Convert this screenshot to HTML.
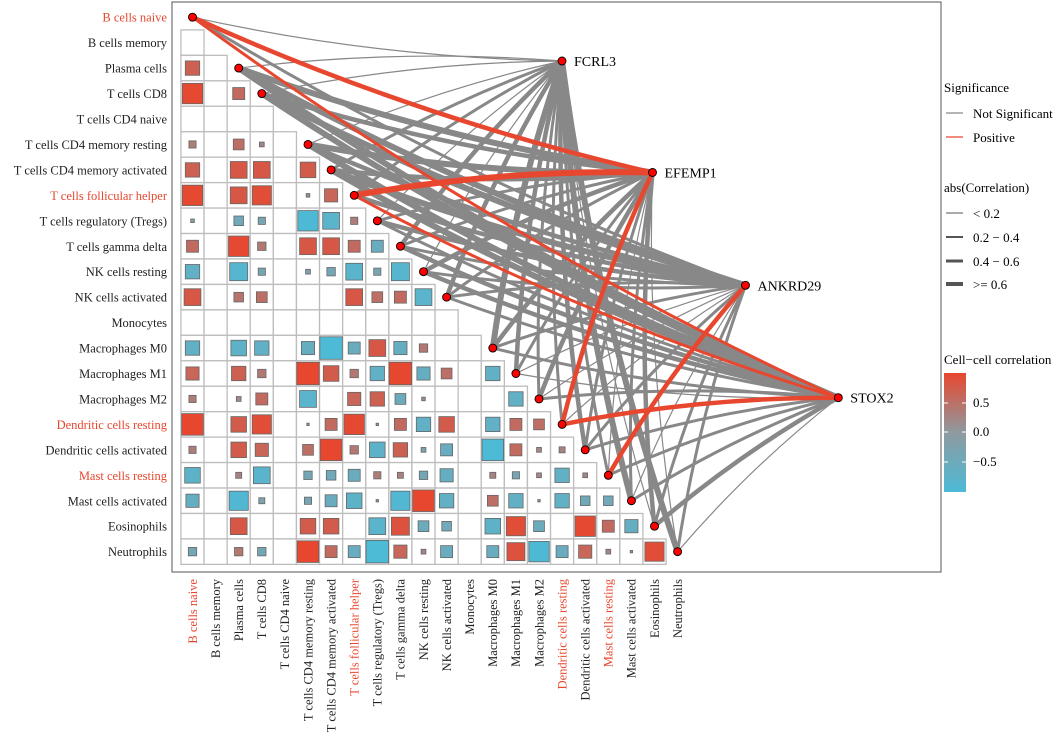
<!DOCTYPE html>
<html><head><meta charset="utf-8"><style>
body{margin:0;background:#fff}
svg{display:block;font-family:"Liberation Serif",serif}
</style></head><body>
<svg id="chart" width="1059" height="749" viewBox="0 0 1059 749" xmlns="http://www.w3.org/2000/svg">
<rect x="172" y="2" width="769" height="570" fill="none" stroke="#555" stroke-width="1"/>
<g id="grid"></g><g id="cells"></g><g id="links"></g><g id="nodes"></g><g id="labels"></g>
<g id="legend">
<text x="944" y="92" font-size="13">Significance</text>
<line x1="946" y1="113" x2="963" y2="113" stroke="#888" stroke-width="1.2"/>
<text x="973" y="118" font-size="13">Not Significant</text>
<line x1="946" y1="137" x2="963" y2="137" stroke="#E8472F" stroke-width="1.2"/>
<text x="973" y="142" font-size="13">Positive</text>
<text x="944" y="192" font-size="13">abs(Correlation)</text>
<line x1="946" y1="213" x2="963" y2="213" stroke="#555" stroke-width="1"/>
<text x="973" y="218" font-size="13">&lt; 0.2</text>
<line x1="946" y1="237" x2="963" y2="237" stroke="#555" stroke-width="2"/>
<text x="973" y="242" font-size="13">0.2 − 0.4</text>
<line x1="946" y1="261" x2="963" y2="261" stroke="#555" stroke-width="3"/>
<text x="973" y="266" font-size="13">0.4 − 0.6</text>
<line x1="946" y1="284" x2="963" y2="284" stroke="#555" stroke-width="4"/>
<text x="973" y="289" font-size="13">&gt;= 0.6</text>
<text x="944" y="364" font-size="13">Cell−cell correlation</text>
<defs><linearGradient id="cg" x1="0" y1="0" x2="0" y2="1">
<stop offset="0" stop-color="#E8472F"/><stop offset="0.5" stop-color="#8E9AA0"/><stop offset="1" stop-color="#4DBAD6"/></linearGradient></defs>
<rect x="944" y="373" width="22" height="119" fill="url(#cg)"/>
<g stroke="#fff" stroke-width="1"><line x1="944" y1="403" x2="948" y2="403"/><line x1="962" y1="403" x2="966" y2="403"/><line x1="944" y1="432" x2="948" y2="432"/><line x1="962" y1="432" x2="966" y2="432"/><line x1="944" y1="462" x2="948" y2="462"/><line x1="962" y1="462" x2="966" y2="462"/></g>
<text x="973" y="407" font-size="13">0.5</text>
<text x="973" y="436" font-size="13">0.0</text>
<text x="973" y="466" font-size="13">−0.5</text>
</g>
</svg>
<script>
const cellNames=["B cells naive","B cells memory","Plasma cells","T cells CD8","T cells CD4 naive","T cells CD4 memory resting","T cells CD4 memory activated","T cells follicular helper","T cells regulatory (Tregs)","T cells gamma delta","NK cells resting","NK cells activated","Monocytes","Macrophages M0","Macrophages M1","Macrophages M2","Dendritic cells resting","Dendritic cells activated","Mast cells resting","Mast cells activated","Eosinophils","Neutrophils"];
const highlighted=["B cells naive","T cells follicular helper","Dendritic cells resting","Mast cells resting"];
const heat=[
[],[0],[0.6,0],[0.85,0,0.5],[0,0,0,0],
[0.3,0,0.45,0.2,0],
[0.6,0,0.7,0.7,0,0.65],
[0.85,0,0.7,0.8,0,0.15,0.55],
[-0.15,0,-0.4,-0.3,0,-0.85,-0.7,0.3],
[0.5,0,0.85,0.35,0,0.7,0.7,0.5,-0.5],
[-0.6,0,-0.75,-0.3,0,-0.2,-0.35,-0.7,-0.3,-0.75],
[0.7,0,0.4,0.45,0,0,0,0.7,0.45,0.5,-0.7],
[0,0,0,0,0,0,0,0,0,0,0,0],
[-0.6,0,-0.65,-0.6,0,-0.55,-0.95,-0.5,0.7,-0.55,0.35,0,0],
[0.55,0,0.6,0.35,0,0.95,0.65,0.35,-0.6,0.95,-0.55,0.45,0,-0.6],
[0.3,0,0.2,0.5,0,-0.7,0,0.55,0.6,-0.45,0.15,0,0,0,-0.6],
[0.9,0,0.65,0.8,0,0.1,0.5,0.85,0.1,0.5,-0.6,0.65,0,-0.6,0.5,0.45],
[0.3,0,0.65,0.55,0,0.45,0.9,0.35,-0.65,0.6,-0.2,-0.5,0,-0.9,0.5,0.2,0.25],
[-0.65,0,0.25,-0.7,0,-0.35,-0.4,-0.5,0.3,0.25,-0.35,-0.55,0,0.25,-0.3,0.2,-0.6,0.2],
[-0.55,0,-0.8,-0.25,0,-0.3,-0.5,-0.65,0.1,-0.8,0.9,-0.6,0,0.45,-0.6,0.1,-0.6,-0.4,-0.4],
[0,0,0.7,0,0,0.65,0.65,0,-0.7,0.75,-0.45,-0.4,0,-0.65,0.8,-0.45,0,0.85,0.5,-0.55],
[-0.35,0,0.35,-0.35,0,0.9,0.5,-0.5,-0.95,0.55,0.2,-0.5,0,-0.5,0.75,-0.85,-0.5,0.55,0.2,0.1,0.8]
];
const genes=["FCRL3","EFEMP1","ANKRD29","STOX2"];
const linkCells=[0,2,3,5,6,7,8,9,10,11,13,14,15,16,17,18,19,20,21];
const linkR=[
[0.1,0.5,0.3,0.3],[0.15,0.65,0.65,0.65],[0.15,0.45,0.65,0.65],[0.1,0.65,0.5,0.65],
[0.3,0.45,0.65,0.65],[0.3,0.65,0.45,0.25],[0.15,0.3,0.45,0.35],[0.45,0.35,0.3,0.5],
[0.15,0.45,0.3,0.45],[0.45,0.25,0.3,0.3],[0.65,0.45,0.3,0.3],[0.45,0.3,0.15,0.15],
[0.3,0.45,0.15,0.3],[0.3,0.45,0.15,0.45],[0.45,0.3,0.3,0.3],[0.3,0.15,0.45,0.3],
[0.65,0.3,0.15,0.3],[0.15,0.45,0.3,0.45],[0.65,0.15,0.3,0.15]];
const linkSig=[
[0,1,0,1],[0,0,0,0],[0,0,0,0],[0,0,0,0],[0,0,0,0],[0,1,0,1],[0,0,0,0],[0,0,0,0],
[0,0,0,0],[0,0,0,0],[0,0,0,0],[0,0,0,0],[0,0,0,0],[0,1,0,1],[0,0,0,0],[0,0,1,0],
[0,0,0,0],[0,0,0,0],[0,0,0,0]];
// layout
const X0=192.5,DX=23.1,Y0=17.2,DY=25.45;
const gx=c=>X0+DX*c, gy=r=>Y0+DY*r;
const genePos=[[562,61],[652.5,172.5],[745.5,285.3],[838.3,397.7]];
const NS="http://www.w3.org/2000/svg";
function mk(tag,attrs,parent){const e=document.createElementNS(NS,tag);for(const k in attrs)e.setAttribute(k,attrs[k]);parent.appendChild(e);return e;}
function hex(a){return [parseInt(a.slice(1,3),16),parseInt(a.slice(3,5),16),parseInt(a.slice(5,7),16)];}
const cRed=hex("#E8472F"),cMid=hex("#8E9AA0"),cBlue=hex("#4DBAD6");
function col(v){const t=Math.min(1,Math.abs(v)*1.15);const e=v>=0?cRed:cBlue;const m=cMid.map((x,i)=>Math.round(x+(e[i]-x)*t));return `rgb(${m.join(",")})`;}
const G=id=>document.getElementById(id);
for(let r=1;r<heat.length;r++){
  for(let c=0;c<r;c++){
    const g=mk("rect",{x:gx(c)-DX/2,y:gy(r)-DY/2,width:DX,height:DY,fill:"#fff",stroke:"#bdbdbd","stroke-width":1.3},G("grid"));
    
    
    const v=heat[r][c];
    if(Math.abs(v)>0.01){
      const s=Math.min(22.5,24*Math.abs(v));
      const q=mk("rect",{x:gx(c)-s/2,y:gy(r)-s/2,width:s,height:s,fill:col(v),stroke:"#666","stroke-width":0.8},G("cells"));
      
      
    }
  }
}
function wid(r){const a=Math.abs(r);return a<0.2?1.2:a<0.4?3:a<0.6?4.5:6;}
function drawLink(i,j){
  const c=linkCells[i];const x1=gx(c),y1=gy(c);const [x2,y2]=genePos[j];
  const dx=x2-x1,dy=y2-y1;const s=dy>0?1:-1;const k=0.05*s;
  const cx=(x1+x2)/2-dy*k,cy=(y1+y2)/2+dx*k;
  const p=mk("path",{d:`M${x1},${y1} Q${cx},${cy} ${x2},${y2}`,fill:"none",stroke:linkSig[i][j]?"#E8472F":"#888","stroke-width":wid(linkR[i][j])},G("links"));
  
  
}
for(let i=0;i<linkCells.length;i++)for(let j=0;j<4;j++)if(!linkSig[i][j])drawLink(i,j);
for(let i=0;i<linkCells.length;i++)for(let j=0;j<4;j++)if(linkSig[i][j])drawLink(i,j);
linkCells.forEach(c=>{const d=mk("circle",{cx:gx(c),cy:gy(c),r:4,fill:"#f00",stroke:"#000","stroke-width":0.9},G("nodes"));
  
  });
genes.forEach((g,j)=>{const [x,y]=genePos[j];
  const d=mk("circle",{cx:x,cy:y,r:4,fill:"#f00",stroke:"#000","stroke-width":0.9},G("nodes"));
  
  
  const t=mk("text",{x:x+12,y:y+5,"font-size":14},G("labels"));t.textContent=g;
  
  });
cellNames.forEach((n,i)=>{
  const red=highlighted.includes(n);
  const t=mk("text",{x:167,y:gy(i)+4.5,"text-anchor":"end","font-size":12.5,fill:red?"#E8472F":"#222"},G("labels"));t.textContent=n;
  
  
  const u=mk("text",{transform:`translate(${gx(i)+4.3},579) rotate(-90)`,"text-anchor":"end","font-size":12.5,fill:red?"#E8472F":"#222"},G("labels"));u.textContent=n;
  
  
});
</script>
</body></html>
